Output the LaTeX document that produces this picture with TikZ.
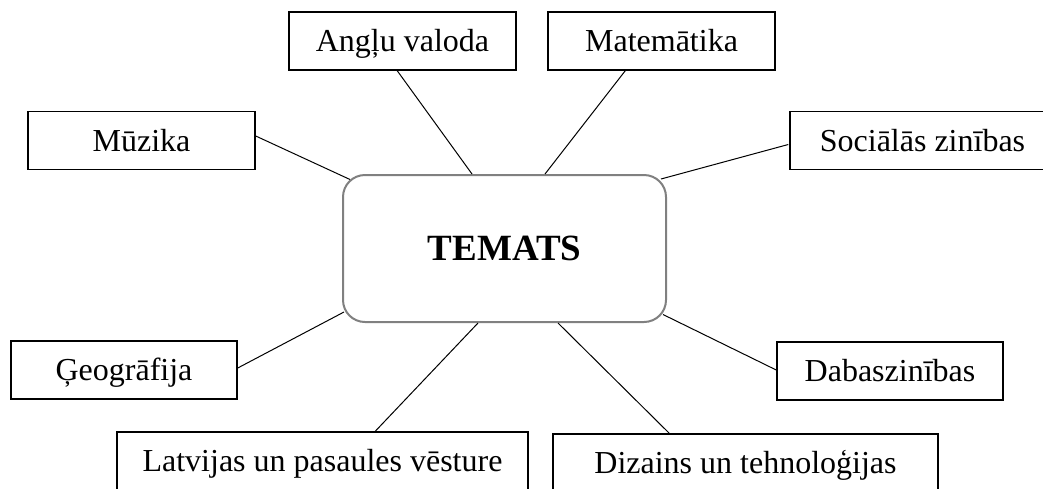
\documentclass[tikz,border=0pt]{standalone}
\usepackage{fontspec}
\setmainfont{Liberation Serif}
\usetikzlibrary{calc}
\definecolor{temgray}{RGB}{128,128,128}
\tikzset{
  subj/.style={draw=black, line width=1.5pt, minimum height=58pt, inner sep=0pt,
    text height=23pt, text depth=2pt,
    font=\fontsize{32}{38}\selectfont, anchor=center},
  topic/.style={draw=temgray, line width=2pt, rounded corners=22pt, minimum width=323pt,
    minimum height=147pt, inner sep=0pt, font=\bfseries\fontsize{37}{44}\selectfont},
  link/.style={draw=black, line width=1pt}
}
\begin{document}
\begin{tikzpicture}[x=1pt,y=-1pt]
\useasboundingbox (0,0) rectangle (1043,488);
\clip (0,0) rectangle (1043,488);
\fill[white] (0,0) rectangle (1043,488);
\node[topic] (tem) at (504.5,248.5) {TEMATS};
\node[subj, minimum width=227pt] (ang) at (402.5,41) {Angļu valoda};
\node[subj, minimum width=227pt] (mat) at (661.5,41) {Matemātika};
\node[subj, minimum width=227pt] (muz) at (141.5,140.5) {Mūzika};
\node[subj, minimum width=265pt] (soc) at (922.5,140.5) {Sociālās zinības};
\node[subj, minimum width=226pt] (geo) at (124,370) {Ģeogrāfija};
\node[subj, minimum width=226pt] (dab) at (890,371) {Dabaszinības};
\node[subj, minimum width=411pt] (lat) at (322.5,461) {Latvijas un pasaules vēsture};
\node[subj, minimum width=385pt] (diz) at (745.5,463) {Dizains un tehnoloģijas};
\draw[link] ($(ang.south west)+(109,0)$) -- ($(tem.north west)+(130,0)$);
\draw[link] ($(mat.south west)+(78,0)$) -- ($(tem.north west)+(203,0)$);
\draw[link] ($(muz.east)+(0,-4.5)$) -- ($(tem.north west)+(8,5.5)$);
\draw[link] ($(soc.west)+(-1,4)$) -- ($(tem.north east)+(-6,5)$);
\draw[link] ($(geo.east)+(0,-2)$) -- ($(tem.south west)+(2,-11)$);
\draw[link] ($(lat.north west)+(259,0)$) -- ($(tem.south west)+(136,0)$);
\draw[link] ($(diz.north west)+(117,0)$) -- ($(tem.south west)+(216,0)$);
\draw[link] ($(dab.west)+(0,-1)$) -- ($(tem.south east)+(-4,-8.5)$);
\end{tikzpicture}
\end{document}
